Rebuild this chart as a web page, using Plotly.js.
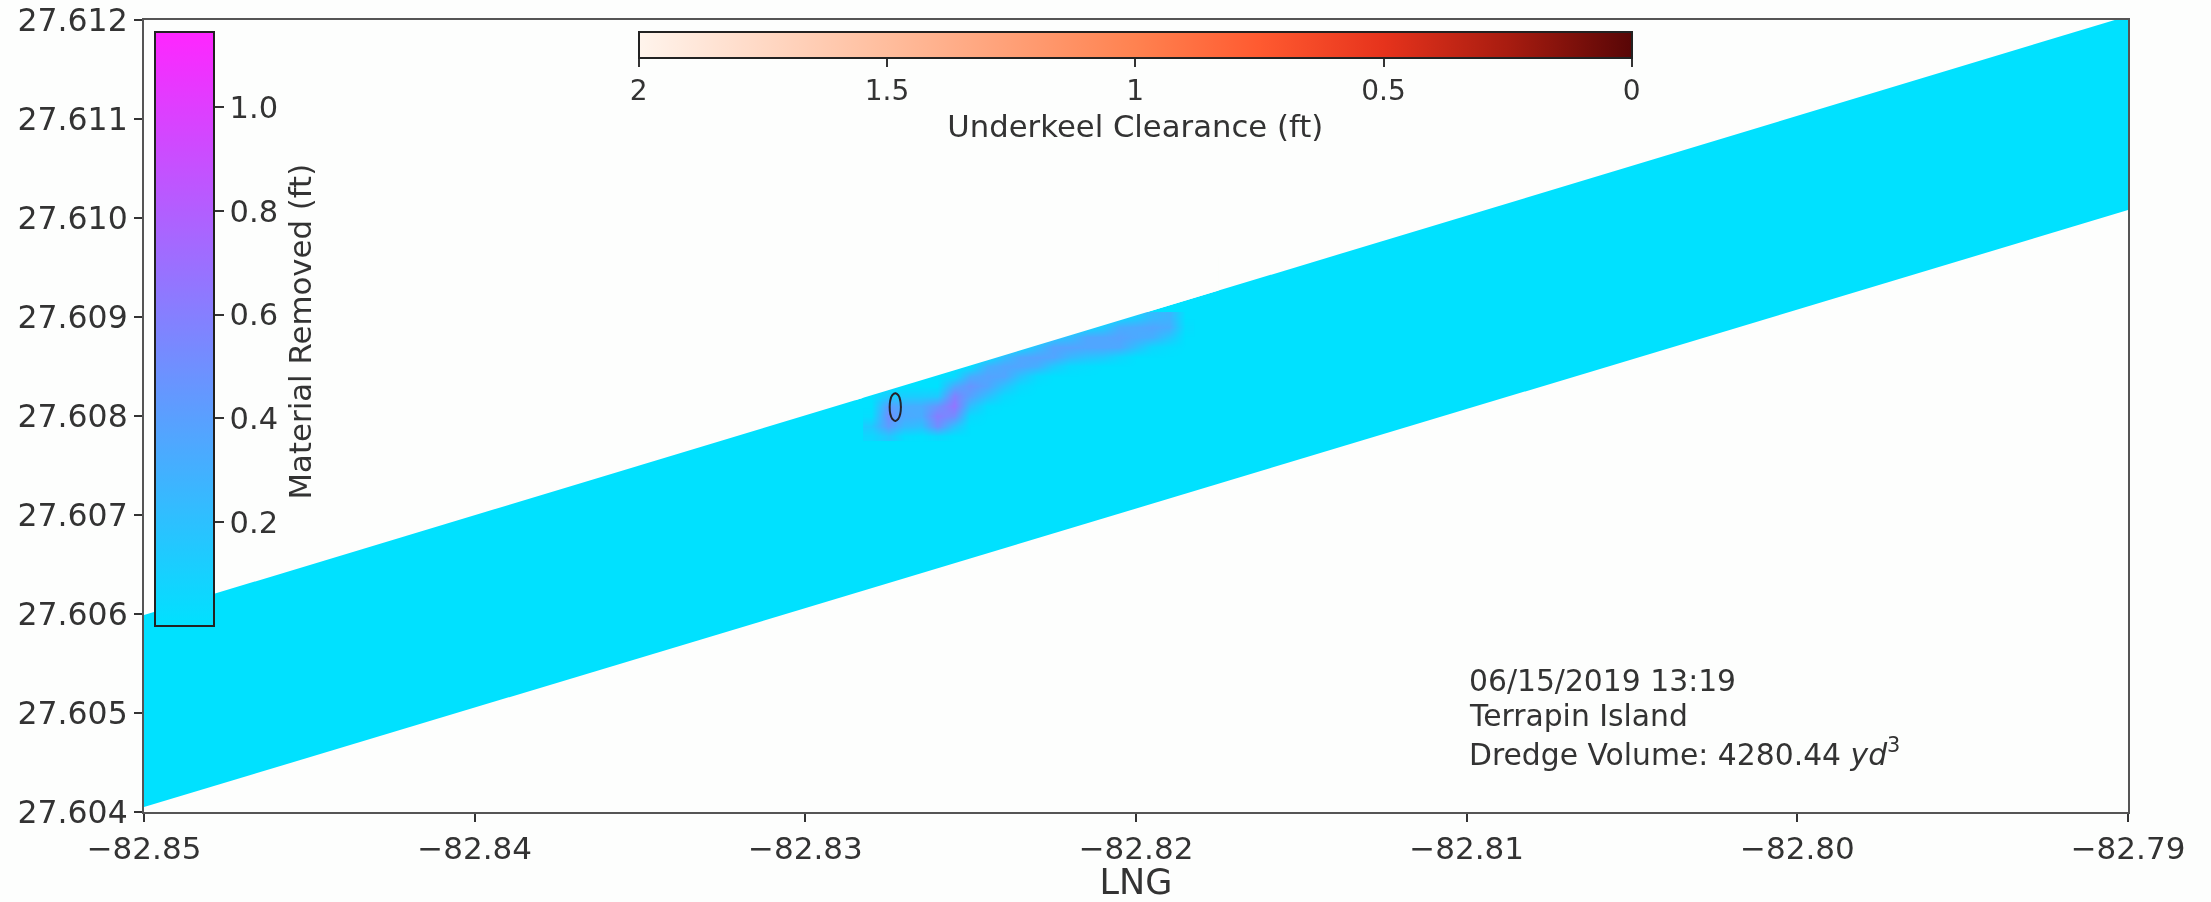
<!DOCTYPE html>
<html><head><meta charset="utf-8">
<script src="https://cdn.plot.ly/plotly-3.0.1.min.js"></script>
<style>html,body{margin:0;padding:0;background:#fdfefd}#chart{filter:blur(0.6px)}</style></head>
<body><div id="chart" style="width:2211px;height:902px"></div>
<script>
const lngRange = [-82.85, -82.79];
const latRange = [27.604, 27.612];
const lngTicks = [-82.85, -82.84, -82.83, -82.82, -82.81, -82.80, -82.79];
const latTicks = [27.604, 27.605, 27.606, 27.607, 27.608, 27.609, 27.61, 27.611, 27.612];

// Dredged channel outline
const channelLng = [-82.85, -82.79, -82.79, -82.7904, -82.85, -82.85];
const channelLat = [27.60405, 27.61008, 27.612, 27.612, 27.60599, 27.60405];

// Area above the channel's north edge, near the removed-material patch
const edgeLng = [-82.8285, -82.8175, -82.8175, -82.8285, -82.8285];
const edgeLat = [27.60816, 27.609267, 27.6096, 27.6096, 27.60816];

// Material removed (ft)
const removedLng = [-82.828, -82.8275, -82.827, -82.8265, -82.826, -82.8255, -82.825, -82.8245, -82.824, -82.8235,
                    -82.823, -82.8225, -82.822, -82.8215, -82.821, -82.8205, -82.82, -82.8195, -82.819, -82.8185];
const removedLat = [27.6078, 27.6079, 27.608, 27.6081, 27.6082, 27.6083, 27.6084, 27.6085, 27.6086, 27.6087, 27.6088, 27.6089, 27.609];
const removedFt = [
 [.06,.16,.02,0,.04,0,0,0,0,0,0,0,0,0,0,0,0,0,0,0],
 [.14,.42,.24,.20,.50,.20,0,0,0,0,0,0,0,0,0,0,0,0,0,0],
 [.02,.50,.34,.32,.60,.50,.04,0,0,0,0,0,0,0,0,0,0,0,0,0],
 [0,.42,.32,.32,.46,.66,.20,.02,0,0,0,0,0,0,0,0,0,0,0,0],
 [0,.14,.12,.12,.14,.58,.38,.20,.04,0,0,0,0,0,0,0,0,0,0,0],
 [0,0,0,0,0,.34,.46,.36,.18,.04,0,0,0,0,0,0,0,0,0,0],
 [0,0,0,0,0,.04,.32,.38,.36,.18,.04,0,0,0,0,0,0,0,0,0],
 [0,0,0,0,0,0,0,.30,.36,.36,.30,.14,.04,.02,0,0,0,0,0,0],
 [0,0,0,0,0,0,0,0,.22,.36,.38,.36,.24,.18,.14,.06,0,0,0,0],
 [0,0,0,0,0,0,0,0,0,.04,.22,.38,.38,.36,.36,.34,.20,.06,.02,0],
 [0,0,0,0,0,0,0,0,0,0,0,.14,.22,.36,.36,.38,.34,.30,.16,0],
 [0,0,0,0,0,0,0,0,0,0,0,0,0,.04,.14,.32,.34,.36,.32,.02],
 [0,0,0,0,0,0,0,0,0,0,0,0,0,0,0,.04,.12,.24,.28,0]
];
const removedTicks = [0.2, 0.4, 0.6, 0.8, 1.0];
const removedMax = 1.145;

// Underkeel clearance contour (ft)
const contourLng = [-82.82728,-82.82719,-82.82713,-82.82711,-82.82713,-82.82719,-82.82728,-82.82737,-82.82743,-82.82745,-82.82743,-82.82737,-82.82728];
const contourLat = [27.60823,27.60821,27.60816,27.60809,27.60802,27.60797,27.60795,27.60797,27.60802,27.60809,27.60816,27.60821,27.60823];
const contourClearance = [0,0,0,0,0,0,0,0,0,0,0,0,0];
const clearanceTicks = [2, 1.5, 1, 0.5, 0];

const cyan = '#00e1ff', ink = '#333333', bg = '#fdfefd';
const fontFam = 'DejaVu Sans, sans-serif';

const traces = [
 {type:'scatter', mode:'lines', x:channelLng, y:channelLat, fill:'toself', fillcolor:cyan, line:{width:0}, hoverinfo:'skip', showlegend:false},
 {type:'heatmap', xaxis:'x2', yaxis:'y2', x:removedLng, y:removedLat, z:removedFt, zsmooth:'best', zmin:0, zmax:removedMax,
  colorscale:[[0,cyan],[1,'#ff26ff']],
  colorbar:{x:(155-143.5)/1984.5, xanchor:'left', y:(812-329)/792, yanchor:'middle',
    lenmode:'pixels', len:594, thicknessmode:'pixels', thickness:59, xpad:0, ypad:0,
    outlinecolor:'#222', outlinewidth:2, borderwidth:0,
    ticks:'outside', ticklen:9, tickwidth:2, tickcolor:ink, tickvals:removedTicks, ticktext:removedTicks.map(v=>v.toFixed(1)),
    tickfont:{family:fontFam, size:30.5, color:ink}}},
 {type:'scatter', xaxis:'x2', yaxis:'y2', mode:'lines', x:edgeLng, y:edgeLat, fill:'toself', fillcolor:bg, line:{width:0}, hoverinfo:'skip', showlegend:false},
 {type:'scatter', xaxis:'x2', yaxis:'y2', mode:'lines+markers', x:contourLng, y:contourLat, showlegend:false,
  line:{color:'#1c2733', width:2, shape:'spline'},
  marker:{size:1, color:contourClearance.map(v=>-v), cmin:-2, cmax:0, showscale:true,
   colorscale:[[0,'#fff4ec'],[.25,'#ffbd9d'],[.5,'#ff8250'],[.625,'#ff5a30'],[.75,'#e6331c'],[.875,'#a81c10'],[1,'#580606']],
   colorbar:{orientation:'h', x:(1135-143.5)/1984.5, xanchor:'center', y:(812-32)/792, yanchor:'top',
    lenmode:'pixels', len:993, thicknessmode:'pixels', thickness:26, xpad:0, ypad:0,
    outlinecolor:'#222', outlinewidth:2, borderwidth:0,
    ticks:'outside', ticklen:8, tickwidth:2, tickcolor:ink,
    tickvals:clearanceTicks.map(v=>-v), ticktext:clearanceTicks.map(String),
    tickfont:{family:fontFam, size:28, color:ink},
    title:{text:'Underkeel Clearance (ft)', side:'bottom', font:{family:fontFam, size:30.7, color:ink}}}}}
];

const layout = {
 width:2211, height:902, paper_bgcolor:bg, plot_bgcolor:bg, showlegend:false,
 margin:{l:143.5, r:83, t:20, b:90, autoexpand:false},
 font:{family:fontFam, color:ink},
 xaxis:{range:lngRange, tickvals:lngTicks, tickformat:'.2f', showgrid:false, zeroline:false, ticks:'outside', ticklen:8, tickwidth:2, tickcolor:ink,
   showline:true, linecolor:'#555', linewidth:2, mirror:true, tickfont:{family:fontFam, size:31, color:ink},
   title:{text:'LNG', font:{family:fontFam, size:35, color:ink}, standoff:6}},
 yaxis:{range:latRange, tickvals:latTicks, tickformat:'.3f', showgrid:false, zeroline:false, ticks:'outside', ticklen:8, tickwidth:2, tickcolor:ink,
   showline:true, linecolor:'#555', linewidth:2, mirror:true, tickfont:{family:fontFam, size:31.5, color:ink}},
 xaxis2:{overlaying:'x', range:lngRange, visible:false},
 yaxis2:{overlaying:'y', range:latRange, visible:false},
 annotations:[
  {xref:'paper', yref:'paper', x:(300-143.5)/1984.5, y:(812-331)/792, xanchor:'center', yanchor:'middle',
   showarrow:false, textangle:-90, text:'Material Removed (ft)', font:{family:fontFam, size:30.8, color:ink}},
  {xref:'x', yref:'y', x:-82.8100, y:27.60533, xanchor:'left', yanchor:'middle', showarrow:false, text:'06/15/2019 13:19', font:{family:fontFam, size:29.8, color:ink}},
  {xref:'x', yref:'y', x:-82.8100, y:27.60497, xanchor:'left', yanchor:'middle', showarrow:false, text:'Terrapin Island', font:{family:fontFam, size:29.8, color:ink}},
  {xref:'x', yref:'y', x:-82.8100, y:27.6046, xanchor:'left', yanchor:'middle', showarrow:false, text:'Dredge Volume: 4280.44 <i>yd</i><sup>3</sup>', font:{family:fontFam, size:29.8, color:ink}}
 ]
};

Plotly.newPlot('chart', traces, layout, {displayModeBar:false, responsive:false});
</script></body></html>
